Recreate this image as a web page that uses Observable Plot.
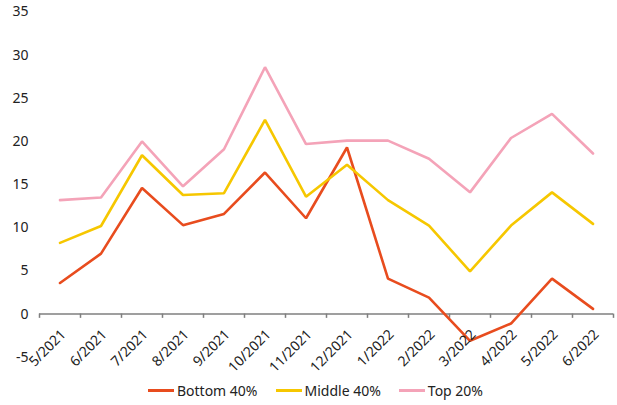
<!DOCTYPE html>
<html>
<head>
<meta charset="utf-8">
<script src="https://cdn.jsdelivr.net/npm/d3@7"></script>
<script src="https://cdn.jsdelivr.net/npm/@observablehq/plot@0.6"></script>
<style>
  html, body { margin: 0; padding: 0; background: #fff; }
  body { width: 617px; height: 405px; overflow: hidden; font-family: "Noto Sans", sans-serif; }
  #legend { display: flex; justify-content: center; align-items: center; gap: 18px; height: 30px; font-size: 14px; color: #222; padding-left: 14px; }
  .item { display: flex; align-items: center; }
  .sw { width: 26px; height: 3px; margin-right: 3px; }
</style>
</head>
<body>
<div id="chart"></div>
<div id="legend"></div>
<script>
const months = ["5/2021","6/2021","7/2021","8/2021","9/2021","10/2021","11/2021","12/2021","1/2022","2/2022","3/2022","4/2022","5/2022","6/2022"];
const bottom40 = [3.6, 7.0, 14.6, 10.3, 11.6, 16.4, 11.1, 19.3, 4.1, 1.9, -3.1, -1.1, 4.1, 0.6];
const middle40 = [8.25, 10.2, 18.4, 13.8, 14.0, 22.5, 13.6, 17.3, 13.2, 10.25, 4.95, 10.25, 14.1, 10.45];
const top20 = [13.2, 13.5, 20.0, 14.8, 19.1, 28.6, 19.7, 20.1, 20.1, 18.0, 14.1, 20.4, 23.2, 18.6];
const seriesNames = ["Bottom 40%", "Middle 40%", "Top 20%"];
const seriesColors = ["#E84C1E", "#F6C700", "#F4A3B8"];
const yTicks = [-5, 0, 5, 10, 15, 20, 25, 30, 35];

const seriesValues = [bottom40, middle40, top20];
const rows = seriesNames.flatMap((s, k) => months.map((m, i) => ({series: s, i: i + 0.5, month: m, value: seriesValues[k][i]})));
const labels = months.map((m, i) => ({m, i: i + 0.5}));
const bounds = d3.range(months.length + 1);

const chart = Plot.plot({
  width: 617,
  height: 375,
  marginLeft: 39,
  marginRight: 4,
  marginTop: 11.5,
  marginBottom: 18.3,
  style: {fontFamily: "Noto Sans, sans-serif", fontSize: "14px", color: "#222", background: "#fff"},
  x: {domain: [0, months.length], axis: null},
  y: {domain: [-5, 35], ticks: yTicks, tickSize: 0, tickPadding: 11, label: null, tickFormat: d => d < 0 ? "-" + Math.abs(d) : String(d)},
  color: {domain: seriesNames, range: seriesColors},
  marks: [
    Plot.ruleY([0], {stroke: "#7f7f7f", strokeWidth: 1.5}),
    Plot.ruleX(bounds, {x: d => d, y1: 0, y2: -0.5, stroke: "#7f7f7f", strokeWidth: 1.5}),
    Plot.line(rows, {x: "i", y: "value", z: "series", stroke: "series", strokeWidth: 2.6, strokeLinejoin: "miter"}),
    Plot.text(labels, {x: "i", y: 0, text: "m", rotate: -45, textAnchor: "end", dx: 3.5, dy: 18, fill: "#222", fontSize: 14})
  ]
});
document.getElementById("chart").appendChild(chart);

const legend = document.getElementById("legend");
seriesNames.forEach((s, k) => {
  const it = document.createElement("div");
  it.className = "item";
  const sw = document.createElement("div");
  sw.className = "sw";
  sw.style.background = seriesColors[k];
  const t = document.createElement("span");
  t.textContent = s;
  it.appendChild(sw); it.appendChild(t);
  legend.appendChild(it);
});
</script>
</body>
</html>
